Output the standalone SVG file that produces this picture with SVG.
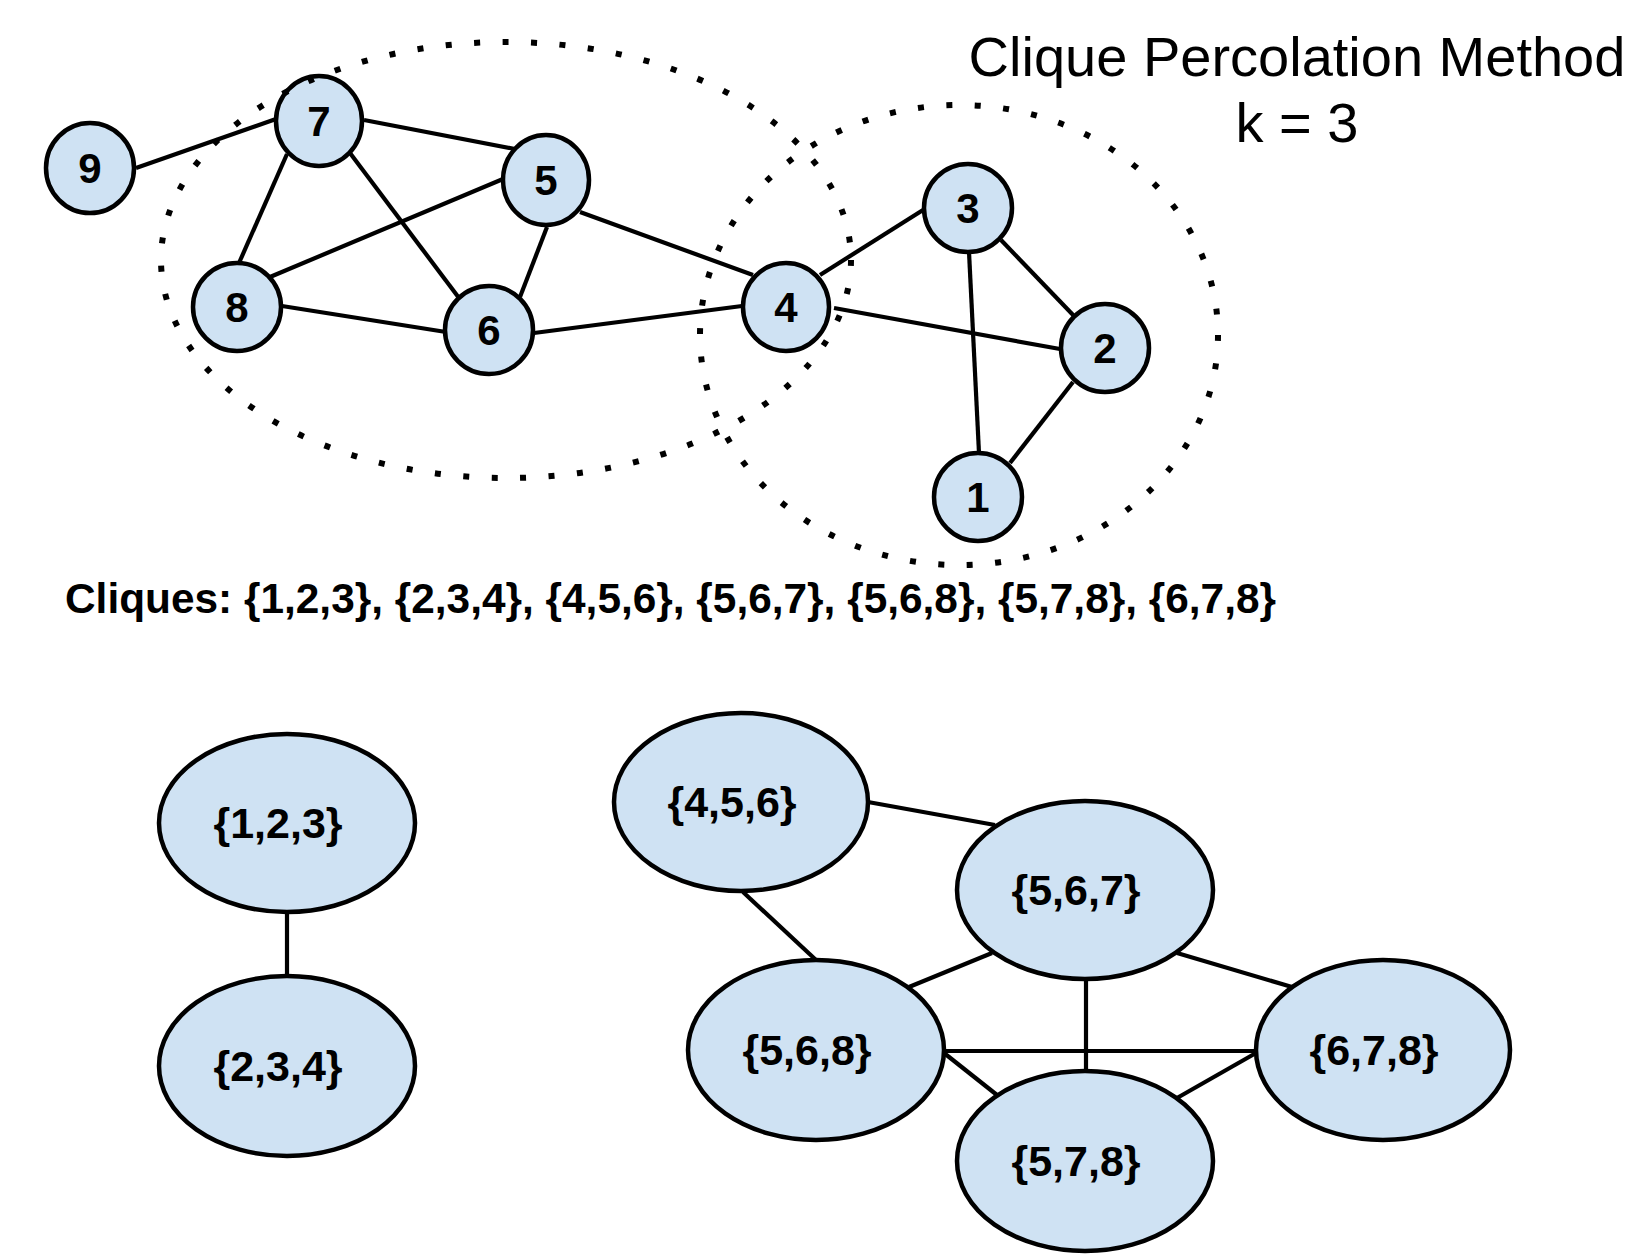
<svg xmlns="http://www.w3.org/2000/svg" width="1640" height="1254" viewBox="0 0 1640 1254">
<style>
.n{fill:#cfe2f3;stroke:#000;stroke-width:4.5}
.e{stroke:#000;stroke-width:4.2;fill:none}
.d{fill:none;stroke:#000;stroke-width:6;stroke-dasharray:6 22.5}
.t{font-family:"Liberation Sans",Arial,sans-serif;font-weight:bold;font-size:42px;text-anchor:middle;fill:#000}
.c{font-family:"Liberation Sans",Arial,sans-serif;font-weight:bold;font-size:43px;text-anchor:middle;fill:#000}
.b{font-family:"Liberation Sans",Arial,sans-serif;font-weight:bold;font-size:43px;fill:#000}
.h{font-family:"Liberation Sans",Arial,sans-serif;font-size:56px;text-anchor:middle;fill:#000}
</style>
<rect width="1640" height="1254" fill="#fff"/>
<g id="connectors">
<line class="e" x1="136" y1="168" x2="276" y2="119"/>
<line class="e" x1="364" y1="120" x2="515" y2="149"/>
<line class="e" x1="287" y1="154" x2="239" y2="263"/>
<line class="e" x1="350" y1="153" x2="459" y2="298"/>
<line class="e" x1="503" y1="179" x2="270" y2="277"/>
<line class="e" x1="547" y1="227" x2="520" y2="297"/>
<line class="e" x1="282" y1="306" x2="446" y2="332"/>
<line class="e" x1="534" y1="333" x2="742" y2="306"/>
<line class="e" x1="580" y1="212" x2="753" y2="275"/>
<line class="e" x1="820" y1="275" x2="923" y2="210"/>
<line class="e" x1="834" y1="308" x2="1060" y2="349"/>
<line class="e" x1="1001" y1="240" x2="1075" y2="317"/>
<line class="e" x1="969" y1="252" x2="979" y2="453"/>
<line class="e" x1="1073" y1="382" x2="1010" y2="463"/>
<line class="e" x1="287" y1="911" x2="287" y2="976"/>
<line class="e" x1="868" y1="802" x2="995" y2="825"/>
<line class="e" x1="743" y1="892" x2="816" y2="960"/>
<line class="e" x1="992" y1="953" x2="909" y2="987"/>
<line class="e" x1="1177" y1="953" x2="1292" y2="987"/>
<line class="e" x1="1086" y1="979" x2="1086" y2="1071"/>
<line class="e" x1="944" y1="1051" x2="1256" y2="1051"/>
<line class="e" x1="944" y1="1053" x2="997" y2="1095"/>
<line class="e" x1="1256" y1="1053" x2="1177" y2="1098"/>
</g>
<g id="node-9"><ellipse class="n" cx="90" cy="168" rx="44" ry="45"/><text class="t" x="90" y="183">9</text></g>
<g id="node-7"><ellipse class="n" cx="319" cy="121" rx="43" ry="45"/><text class="t" x="319" y="136">7</text></g>
<g id="node-5"><ellipse class="n" cx="546" cy="180" rx="43" ry="45"/><text class="t" x="546" y="195">5</text></g>
<g id="node-8"><ellipse class="n" cx="237" cy="307" rx="44" ry="44"/><text class="t" x="237" y="322">8</text></g>
<g id="node-6"><ellipse class="n" cx="489" cy="330" rx="44" ry="44"/><text class="t" x="489" y="345">6</text></g>
<g id="node-4"><ellipse class="n" cx="786" cy="307" rx="43" ry="44"/><text class="t" x="786" y="322">4</text></g>
<g id="node-3"><ellipse class="n" cx="968" cy="208" rx="44" ry="44"/><text class="t" x="968" y="223">3</text></g>
<g id="node-2"><ellipse class="n" cx="1105" cy="348" rx="44" ry="44"/><text class="t" x="1105" y="363">2</text></g>
<g id="node-1"><ellipse class="n" cx="978" cy="497" rx="44" ry="44"/><text class="t" x="978" y="512">1</text></g>
<g id="community-left"><ellipse class="d" cx="506" cy="260" rx="345" ry="218"/></g>
<g id="community-right"><ellipse class="d" cx="959" cy="335" rx="259" ry="230"/></g>
<g id="title"><text class="h" x="1297" y="76">Clique Percolation Method</text><text class="h" x="1297" y="142">k = 3</text></g>
<g id="cliques-label"><text class="b" x="65" y="613" textLength="1211" lengthAdjust="spacingAndGlyphs">Cliques: {1,2,3}, {2,3,4}, {4,5,6}, {5,6,7}, {5,6,8}, {5,7,8}, {6,7,8}</text></g>
<g id="clique-123"><ellipse class="n" cx="287" cy="823" rx="128" ry="89"/><text class="c" x="278" y="838">{1,2,3}</text></g>
<g id="clique-234"><ellipse class="n" cx="287" cy="1066" rx="128" ry="90"/><text class="c" x="278" y="1081">{2,3,4}</text></g>
<g id="clique-456"><ellipse class="n" cx="741" cy="802" rx="127" ry="89"/><text class="c" x="732" y="817">{4,5,6}</text></g>
<g id="clique-567"><ellipse class="n" cx="1085" cy="890" rx="128" ry="89"/><text class="c" x="1076" y="905">{5,6,7}</text></g>
<g id="clique-568"><ellipse class="n" cx="816" cy="1050" rx="128" ry="90"/><text class="c" x="807" y="1065">{5,6,8}</text></g>
<g id="clique-678"><ellipse class="n" cx="1383" cy="1050" rx="127" ry="90"/><text class="c" x="1374" y="1065">{6,7,8}</text></g>
<g id="clique-578"><ellipse class="n" cx="1085" cy="1161" rx="128" ry="90"/><text class="c" x="1076" y="1176">{5,7,8}</text></g>
</svg>
